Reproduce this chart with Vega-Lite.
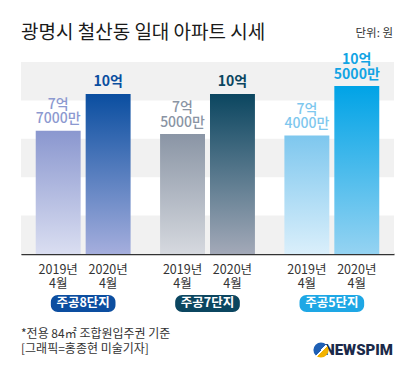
{
  "$schema": "https://vega.github.io/schema/vega-lite/v6.json",
  "width": 373,
  "height": 192,
  "autosize": {"type": "none"},
  "padding": {"left": 21, "top": 62, "right": 19, "bottom": 121},
  "background": "white",
  "config": {"view": {"stroke": null}, "font": "Noto Sans CJK KR"},
  "title": {"text": "광명시 철산동 일대 아파트 시세", "anchor": "start", "frame": "group", "fontSize": 19, "fontWeight": "normal", "color": "#1a1a1a", "offset": -15, "font": "Noto Sans CJK KR"},
  "datasets": {
    "bars": [
      {"group": "주공8단지", "year": "2019년 4월", "value": 7.7, "label": "7억 7000만"},
      {"group": "주공8단지", "year": "2020년 4월", "value": 10.0, "label": "10억"},
      {"group": "주공7단지", "year": "2019년 4월", "value": 7.5, "label": "7억 5000만"},
      {"group": "주공7단지", "year": "2020년 4월", "value": 10.0, "label": "10억"},
      {"group": "주공5단지", "year": "2019년 4월", "value": 7.4, "label": "7억 4000만"},
      {"group": "주공5단지", "year": "2020년 4월", "value": 10.5, "label": "10억 5000만"}
    ],
    "bands": [{"b": 0, "e": 2.4}, {"b": 4.8, "e": 7.2}, {"b": 9.6, "e": 12}],
    "groups": [{"group": "주공8단지"}, {"group": "주공7단지"}, {"group": "주공5단지"}],
    "notes": [{"group": "주공8단지", "text": "*전용 84㎡ 조합원입주권 기준\n[그래픽=홍종현 미술기자]"}],
    "unit": [{"group": "주공5단지", "text": "단위: 원"}],
    "logo": [{"group": "주공5단지", "text": "NEWSPIM"}]
  },
  "layer": [
    {
      "data": {"name": "bands"},
      "mark": {"type": "rect", "color": "#f1f1f1"},
      "encoding": {
        "y": {"field": "b", "type": "quantitative", "scale": {"domain": [0, 12], "nice": false, "zero": true}, "axis": null},
        "y2": {"field": "e"}
      }
    },
    {
      "data": {"name": "bars"},
      "mark": {"type": "bar"},
      "encoding": {
        "x": {"field": "group", "type": "nominal", "scale": {"domain": ["주공8단지", "주공7단지", "주공5단지"], "paddingInner": 0, "paddingOuter": 0},
          "axis": {"title": null, "labels": false, "domainColor": "#333", "domainWidth": 1.5, "tickColor": "#999", "tickSize": -5, "bandPosition": 0}},
        "xOffset": {"field": "year", "type": "nominal", "scale": {"domain": ["2019년 4월", "2020년 4월"], "paddingInner": 0.1, "paddingOuter": 0.295}},
        "y": {"field": "value", "type": "quantitative", "axis": null},
        "fill": {
          "condition": [
            {"test": "datum.group==='주공8단지' && datum.year==='2019년 4월'", "value": {"gradient": "linear", "x1": 0, "y1": 0, "x2": 0, "y2": 1, "stops": [{"offset": 0, "color": "#8a97cf"}, {"offset": 1, "color": "#dadef1"}]}},
            {"test": "datum.group==='주공8단지'", "value": {"gradient": "linear", "x1": 0, "y1": 0, "x2": 0, "y2": 1, "stops": [{"offset": 0, "color": "#0a4ea0"}, {"offset": 1, "color": "#a5aedd"}]}},
            {"test": "datum.group==='주공7단지' && datum.year==='2019년 4월'", "value": {"gradient": "linear", "x1": 0, "y1": 0, "x2": 0, "y2": 1, "stops": [{"offset": 0, "color": "#8a95a5"}, {"offset": 1, "color": "#d6d9df"}]}},
            {"test": "datum.group==='주공7단지'", "value": {"gradient": "linear", "x1": 0, "y1": 0, "x2": 0, "y2": 1, "stops": [{"offset": 0, "color": "#0b4660"}, {"offset": 1, "color": "#a3a9b8"}]}},
            {"test": "datum.group==='주공5단지' && datum.year==='2019년 4월'", "value": {"gradient": "linear", "x1": 0, "y1": 0, "x2": 0, "y2": 1, "stops": [{"offset": 0, "color": "#7ec7ee"}, {"offset": 1, "color": "#daeffb"}]}}
          ],
          "value": {"gradient": "linear", "x1": 0, "y1": 0, "x2": 0, "y2": 1, "stops": [{"offset": 0, "color": "#00a3e6"}, {"offset": 1, "color": "#95d3f2"}]}
        }
      }
    },
    {
      "data": {"name": "bars"},
      "transform": [{"filter": "datum.year==='2019년 4월'"}],
      "mark": {"type": "text", "baseline": "bottom", "dy": -19, "fontSize": 14, "lineHeight": 14.5, "lineBreak": " ", "fontWeight": 500},
      "encoding": {
        "x": {"field": "group", "type": "nominal"},
        "xOffset": {"field": "year", "type": "nominal"},
        "y": {"field": "value", "type": "quantitative"},
        "text": {"field": "label"},
        "color": {"condition": [{"test": "datum.group==='주공8단지'", "value": "#8c99d0"}, {"test": "datum.group==='주공7단지'", "value": "#8a94a4"}], "value": "#7ec7ee"}
      }
    },
    {
      "data": {"name": "bars"},
      "transform": [{"filter": "datum.year==='2020년 4월' && datum.group!=='주공5단지'"}],
      "mark": {"type": "text", "baseline": "bottom", "dy": -5, "fontSize": 14, "lineHeight": 14.5, "lineBreak": " ", "fontWeight": "bold"},
      "encoding": {
        "x": {"field": "group", "type": "nominal"},
        "xOffset": {"field": "year", "type": "nominal"},
        "y": {"field": "value", "type": "quantitative"},
        "text": {"field": "label"},
        "color": {"condition": [{"test": "datum.group==='주공8단지'", "value": "#0a4ea0"}], "value": "#0b4660"}
      }
    },
    {
      "data": {"name": "bars"},
      "transform": [{"filter": "datum.year==='2020년 4월' && datum.group==='주공5단지'"}],
      "mark": {"type": "text", "baseline": "bottom", "dy": -19, "fontSize": 14, "lineHeight": 14.5, "lineBreak": " ", "fontWeight": "bold", "color": "#12a4e4"},
      "encoding": {
        "x": {"field": "group", "type": "nominal"},
        "xOffset": {"field": "year", "type": "nominal"},
        "y": {"field": "value", "type": "quantitative"},
        "text": {"field": "label"}
      }
    },
    {
      "data": {"name": "bars"},
      "mark": {"type": "text", "baseline": "top", "dy": 10, "fontSize": 12.5, "lineHeight": 14, "lineBreak": " ", "color": "#333"},
      "encoding": {
        "x": {"field": "group", "type": "nominal"},
        "xOffset": {"field": "year", "type": "nominal"},
        "y": {"datum": 0, "type": "quantitative"},
        "text": {"field": "year"}
      }
    },
    {
      "data": {"name": "groups"},
      "mark": {"type": "bar", "cornerRadius": 7, "width": {"band": 0.52}},
      "encoding": {
        "x": {"field": "group", "type": "nominal"},
        "y": {"datum": -2.5625, "type": "quantitative"},
        "y2": {"datum": -3.625},
        "fill": {"condition": [{"test": "datum.group==='주공8단지'", "value": "#0c4ea0"}, {"test": "datum.group==='주공7단지'", "value": "#0b4660"}], "value": "#1ea7e5"}
      }
    },
    {
      "data": {"name": "groups"},
      "mark": {"type": "text", "baseline": "middle", "fontSize": 12.5, "fontWeight": "bold", "color": "white"},
      "encoding": {
        "x": {"field": "group", "type": "nominal"},
        "y": {"datum": -3.09, "type": "quantitative"},
        "text": {"field": "group"}
      }
    },
    {
      "data": {"name": "notes"},
      "mark": {"type": "text", "baseline": "top", "align": "left", "fontSize": 12, "lineHeight": 15, "lineBreak": "\n", "color": "#333"},
      "encoding": {
        "x": {"field": "group", "type": "nominal", "bandPosition": 0},
        "y": {"datum": -4.7, "type": "quantitative"},
        "text": {"field": "text"}
      }
    },
    {
      "data": {"name": "unit"},
      "mark": {"type": "text", "baseline": "middle", "align": "right", "fontSize": 11.5, "dy": -28, "dx": -1, "color": "#333"},
      "encoding": {
        "x": {"field": "group", "type": "nominal", "bandPosition": 1},
        "y": {"datum": 12, "type": "quantitative"},
        "text": {"field": "text"}
      }
    },
    {
      "data": {"name": "logo"},
      "mark": {"type": "text", "baseline": "middle", "align": "right", "fontSize": 15, "font": "Roboto", "fontWeight": 900, "color": "#1b2a4a", "dx": -1},
      "encoding": {
        "x": {"field": "group", "type": "nominal", "bandPosition": 1},
        "y": {"datum": -6.0, "type": "quantitative"},
        "text": {"field": "text"}
      }
    },
    {
      "data": {"name": "logo"},
      "mark": {"type": "point", "shape": "circle", "filled": true, "opacity": 1, "size": 230, "xOffset": -73,
        "fill": {"gradient": "linear", "x1": 0, "y1": 0, "x2": 1, "y2": 1, "stops": [{"offset": 0, "color": "#1e5fb4"}, {"offset": 0.5, "color": "#1e5fb4"}, {"offset": 0.5, "color": "#ffffff"}, {"offset": 0.58, "color": "#ffffff"}, {"offset": 0.58, "color": "#f2b200"}, {"offset": 1, "color": "#f2b200"}]}},
      "encoding": {
        "x": {"field": "group", "type": "nominal", "bandPosition": 1},
        "y": {"datum": -6.0, "type": "quantitative"}
      }
    }
  ]
}
